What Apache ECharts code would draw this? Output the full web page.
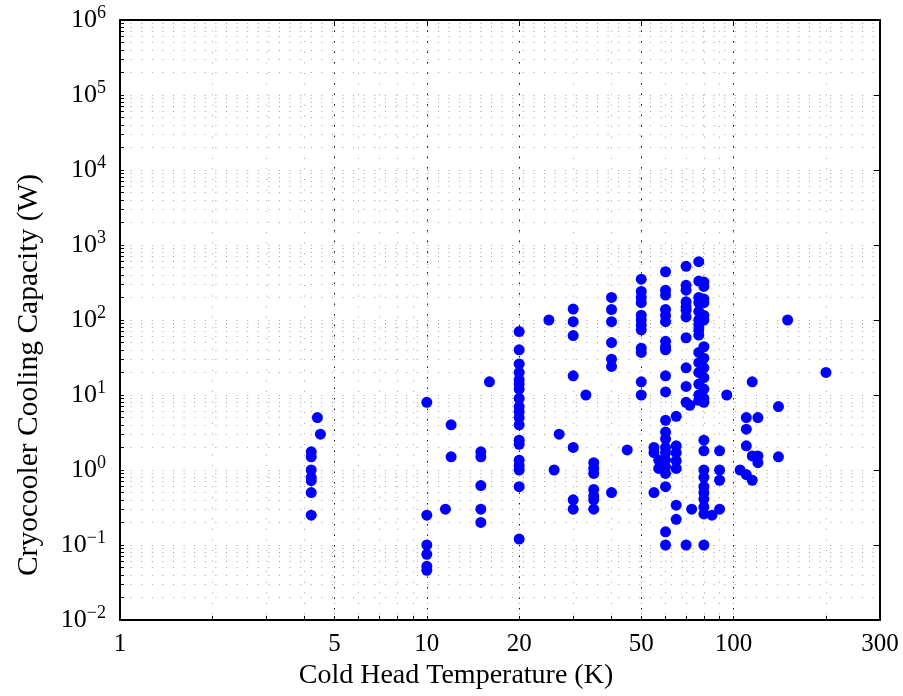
<!DOCTYPE html>
<html>
<head>
<meta charset="utf-8">
<script src="https://cdn.jsdelivr.net/npm/echarts@6/dist/echarts.min.js"></script>
<style>
  html, body { margin: 0; padding: 0; background: #fff; }
  #chart { width: 903px; height: 696px; }
</style>
</head>
<body>
<div id="chart"></div>
<script>
// Cold head temperature (K) and cooling capacity (W) for each cryocooler.
const temperatureK = [
  4.2, 4.2, 4.2, 4.2, 4.2, 4.2, 4.2, 4.4, 4.5,
  10, 10, 10, 10, 10, 10, 11.5, 12, 12,
  15, 15, 15, 15, 15, 16,
  20, 20, 20, 20, 20, 20, 20, 20, 20, 20, 20, 20, 20, 20, 20, 20, 20, 20, 20,
  25, 26, 27,
  30, 30, 30, 30, 30, 30, 30, 33,
  35, 35, 35, 35, 35, 35, 35,
  40, 40, 40, 40, 40, 40, 40, 45,
  50, 50, 50, 50, 50, 50, 50, 50, 50, 50, 50, 50,
  55, 55, 55, 57, 57,
  60, 60, 60, 60, 60, 60, 60, 60, 60, 60, 60, 60, 60, 60, 60, 60, 60, 60, 60, 60, 60, 60,
  65, 65, 65, 65, 65, 65, 65,
  70, 70, 70, 70, 70, 70, 70, 70, 70, 70, 70, 70, 72, 73,
  77, 77, 77, 77, 77, 77, 77, 77, 77, 77, 77, 77, 77, 77, 77,
  80, 80, 80, 80, 80, 80, 80, 80, 80, 80, 80, 80, 80, 80, 80, 80, 80, 80, 80, 80, 80, 80, 80,
  85, 90, 90, 90, 90, 95, 105,
  110, 110, 110, 110, 115, 115, 115, 120, 120, 120,
  140, 140, 150, 200
];
const capacityW = [
  1.75, 1.5, 1.0, 0.8, 0.72, 0.5, 0.25, 5, 3,
  8, 0.25, 0.1, 0.075, 0.052, 0.046, 0.3, 4, 1.5,
  1.75, 1.5, 0.62, 0.3, 0.2, 15,
  70, 40, 26, 20, 16, 14, 12, 9, 7, 6, 5, 4, 2.5, 2.2, 1.35, 1.15, 1.0, 0.6, 0.12,
  100, 1, 3,
  140, 95, 62, 18, 2, 0.4, 0.3, 10,
  1.25, 1.05, 0.9, 0.55, 0.45, 0.4, 0.3,
  200, 138, 95, 50, 30, 24, 0.5, 1.85,
  350, 240, 200, 170, 116, 100, 86, 74, 42, 37, 15, 10,
  2.0, 1.7, 0.5, 1.35, 1.05,
  440, 250, 215, 138, 115, 95, 52, 44, 40, 18, 11, 4.6, 3.2, 2.6, 2.0, 1.7, 1.35, 1.1, 0.9, 0.6, 0.15, 0.1,
  5.2, 2.1, 1.7, 1.33, 1.05, 0.34, 0.22,
  520, 290, 250, 175, 150, 135, 110, 58, 23, 13, 8, 0.1, 7.3, 0.3,
  600, 330, 200, 170, 130, 100, 86, 74, 63, 37, 27, 20, 14, 10, 8.5,
  320, 280, 190, 170, 115, 100, 44, 31, 23, 17, 12, 9, 8, 2.5, 1.8, 1.0, 0.8, 0.6, 0.5, 0.41, 0.32, 0.26, 0.1,
  0.25, 1.8, 1.0, 0.73, 0.3, 10, 1.0,
  5, 3.5, 2.1, 0.87, 15, 1.54, 0.73, 5, 1.54, 1.25,
  7, 1.5, 100, 20
];

// Axis ticks and labels
const xLabelTicks = [1, 5, 10, 20, 50, 100, 300];
const xMinorTicks = [1, 2, 3, 4, 5, 6, 7, 8, 9, 10, 20, 30, 40, 50, 60, 70, 80, 90, 100, 200, 300];
const xMajorGrid = [5, 10, 20, 50, 100];
const yDecades = [0.01, 0.1, 1, 10, 100, 1000, 10000, 100000, 1000000];
const yMinorTicks = [
  0.01, 0.02, 0.03, 0.04, 0.05, 0.06, 0.07, 0.08, 0.09,
  0.1, 0.2, 0.3, 0.4, 0.5, 0.6, 0.7, 0.8, 0.9,
  1, 2, 3, 4, 5, 6, 7, 8, 9,
  10, 20, 30, 40, 50, 60, 70, 80, 90,
  100, 200, 300, 400, 500, 600, 700, 800, 900,
  1000, 2000, 3000, 4000, 5000, 6000, 7000, 8000, 9000,
  10000, 20000, 30000, 40000, 50000, 60000, 70000, 80000, 90000,
  100000, 200000, 300000, 400000, 500000, 600000, 700000, 800000, 900000,
  1000000
];

const FONT = '"Liberation Serif", "DejaVu Serif", serif';
const points = temperatureK.map((t, i) => [t, capacityW[i]]);

const minorGrid = { show: true, lineStyle: { color: '#a0a0a0', width: 1, type: [1, 9.6] } };

function powerLabel(v) {
  const e = Math.round(Math.log10(v));
  const exp = e < 0 ? '\u2212' + (-e) : String(e);
  return '{b|10}{s|' + exp + '}';
}

const chart = echarts.init(document.getElementById('chart'), null, { renderer: 'canvas' });
chart.setOption({
  backgroundColor: '#ffffff',
  animation: false,
  grid: { left: 120, right: 23, top: 20, bottom: 76, containLabel: false },
  xAxis: [
    {
      type: 'log', logBase: 10, min: 1, max: 300, position: 'bottom',
      name: 'Cold Head Temperature (K)', nameLocation: 'middle', nameGap: 40,
      nameTextStyle: { fontFamily: FONT, fontSize: 28, color: '#000', padding: [0, 88, 0, 0] },
      axisLine: { show: true, lineStyle: { color: '#000', width: 2 } },
      axisTick: { show: true, inside: true, length: 4, customValues: xMinorTicks, lineStyle: { color: '#000' } },
      axisLabel: { customValues: xLabelTicks, margin: 12, fontFamily: FONT, fontSize: 25, color: '#000',
                   formatter: v => String(Math.round(v)) },
      splitLine: minorGrid,
      minorTick: { show: false }, minorSplitLine: { show: false }
    },
    {
      type: 'log', logBase: 10, min: 1, max: 300, position: 'top',
      axisLine: { show: true, lineStyle: { color: '#000', width: 2 } },
      axisTick: { show: true, inside: true, length: 6, customValues: xMajorGrid, lineStyle: { color: '#000' } },
      axisLabel: { show: false },
      splitLine: { show: true, lineStyle: { color: '#111', width: 1, type: [1.5, 9] } }
    }
  ],
  yAxis: [
    {
      type: 'log', logBase: 10, min: 0.01, max: 1000000, position: 'left',
      name: 'Cryocooler Cooling Capacity (W)', nameLocation: 'middle', nameGap: 76, nameRotate: 90,
      nameTextStyle: { fontFamily: FONT, fontSize: 29.5, color: '#000', padding: [0, 110, 0, 0] },
      axisLine: { show: true, lineStyle: { color: '#000', width: 2 } },
      axisTick: { show: true, inside: true, length: 4, customValues: yMinorTicks, lineStyle: { color: '#000' } },
      axisLabel: {
        customValues: yDecades, margin: 14, color: '#000', formatter: powerLabel,
        rich: {
          b: { fontFamily: FONT, fontSize: 26, lineHeight: 32, color: '#000' },
          s: { fontFamily: FONT, fontSize: 18, lineHeight: 18, verticalAlign: 'top', color: '#000' }
        }
      },
      splitLine: minorGrid,
      minorTick: { show: false }, minorSplitLine: { show: false }
    },
    {
      type: 'log', logBase: 10, min: 0.01, max: 1000000, position: 'right',
      axisLine: { show: true, lineStyle: { color: '#000', width: 2 } },
      axisTick: { show: true, inside: true, length: 6, customValues: yDecades, lineStyle: { color: '#000' } },
      axisLabel: { show: false },
      splitLine: { show: false }
    }
  ],
  series: [
    {
      type: 'scatter', xAxisIndex: 0, yAxisIndex: 0,
      data: points, symbol: 'circle', symbolSize: 11,
      itemStyle: { color: '#0000ff', opacity: 1 },
      emphasis: { disabled: true }
    }
  ]
});
</script>
</body>
</html>
